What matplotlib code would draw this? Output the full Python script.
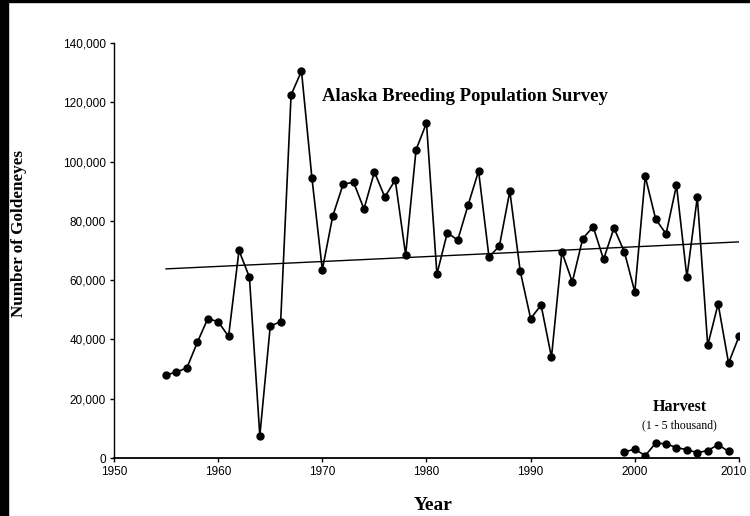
import matplotlib
matplotlib.use("Agg")
import matplotlib.pyplot as plt
from matplotlib.ticker import FuncFormatter, MultipleLocator
from matplotlib.patches import Rectangle

# Alaska breeding population survey
years = list(range(1955, 2011))
survey = [28000, 29000, 30400, 39000, 47000, 46000, 41000, 70000, 61000, 7500,
          44500, 46000, 122500, 130500, 94500, 63500, 81600, 92400, 93000, 84000,
          96500, 88000, 93800, 68500, 104000, 113000, 62000, 76000, 73500, 85400,
          96800, 67800, 71500, 90000, 63000, 47000, 51600, 34000, 69500, 59400,
          74000, 78000, 67000, 77600, 69500, 56000, 95000, 80600, 75600, 92000,
          61000, 88000, 38000, 52000, 32000, 41000]

# linear trend, end points
trend_years = [1955, 2010]
trend_vals = [63800, 72900]

# harvest
harvest_years = list(range(1999, 2010))
harvest = [2000, 3000, 800, 5000, 4800, 3500, 2800, 1800, 2500, 4500, 2200]

serif = ["Liberation Serif", "DejaVu Serif"]
sans = ["Liberation Sans", "DejaVu Sans"]
plt.rcParams["font.family"] = sans

x_min, x_max = 1950, 2010

fig = plt.figure(figsize=(7.5, 5.16), dpi=100)
ax = fig.add_axes([0.152, 0.1124, 0.8333, 0.8043])

ax.plot(years, survey, color="black", lw=1.2, marker="o", ms=5)
ax.plot(trend_years, trend_vals, color="black", lw=1.0)
ax.plot(harvest_years, harvest, color="black", lw=1.2, marker="o", ms=5)

ax.set_xlim(x_min, x_max)
ax.set_ylim(0, 140000)
ax.xaxis.set_major_locator(MultipleLocator(10))
ax.yaxis.set_major_locator(MultipleLocator(20000))
ax.yaxis.set_major_formatter(FuncFormatter(lambda v, p: f"{int(v):,}"))
# last year label is drawn by hand so it stays on the page
ax.xaxis.set_major_formatter(FuncFormatter(lambda v, p: "" if v >= x_max else f"{int(v)}"))

for s in ["top", "right"]:
    ax.spines[s].set_visible(False)
ax.spines["left"].set_linewidth(1.0)
ax.spines["bottom"].set_linewidth(1.3)
ax.tick_params(axis="both", direction="out", length=3, width=1, labelsize=8.5, pad=3)

ax.annotate(f"{x_max}", xy=(x_max, 0), xycoords=("data", "axes fraction"),
            xytext=(-4, -6), textcoords="offset points", ha="center", va="top",
            fontsize=8.5)

ax.set_xlabel("Year", family=serif, fontsize=14, fontweight="bold")
ax.set_ylabel("Number of Goldeneyes", family=serif, fontsize=12.3, fontweight="bold")
ax.xaxis.set_label_coords(0.51, -0.094)
ax.yaxis.set_label_coords(-0.139, 0.54)

ax.text(1970.0, 122000, "Alaska Breeding Population Survey", family=serif,
        fontsize=13.5, fontweight="bold", ha="left", va="center")
ax.text(2004.3, 17200, "Harvest", family=serif, fontsize=11.5, fontweight="bold",
        ha="center", va="center")
ax.text(2004.3, 11000, "(1 - 5 thousand)", family=serif, fontsize=8.5,
        ha="center", va="center")

# scanned page edges
fig.patches.append(Rectangle((0, 0), 0.011, 1, transform=fig.transFigure,
                             color="black", zorder=10))
fig.patches.append(Rectangle((0, 0.996), 1, 0.004, transform=fig.transFigure,
                             color="black", zorder=10))

fig.savefig("out.png", dpi=100)
